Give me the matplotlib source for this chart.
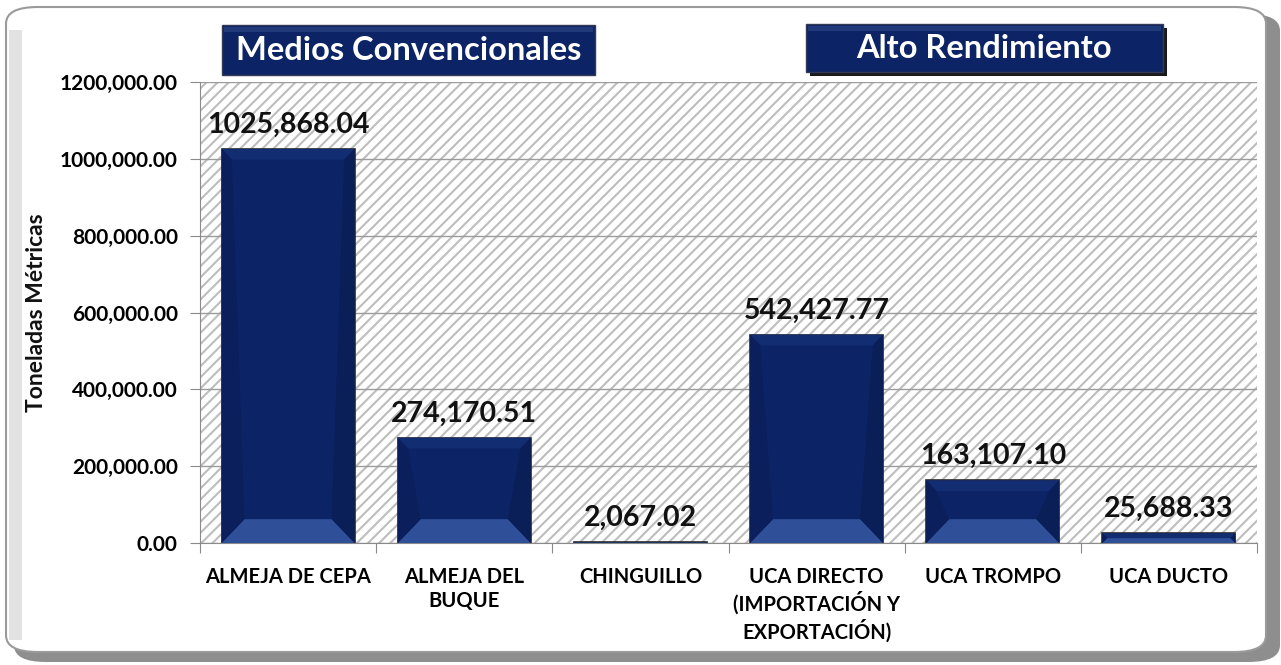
import matplotlib
matplotlib.use("Agg")
import matplotlib.pyplot as plt
from matplotlib.patches import FancyBboxPatch, Rectangle, Polygon
from matplotlib.ticker import FuncFormatter

# Data
categories = ["ALMEJA DE CEPA", "ALMEJA DEL\nBUQUE", "CHINGUILLO",
              "UCA DIRECTO\n(IMPORTACIÓN Y\nEXPORTACIÓN)", "UCA TROMPO", "UCA DUCTO"]
values = [1025868.04, 274170.51, 2067.02, 542427.77, 163107.10, 25688.33]
y_ticks = [0, 200000, 400000, 600000, 800000, 1000000, 1200000]
group_titles = ["Medios Convencionales", "Alto Rendimiento"]

W, H = 1281, 665
NAVY = "#0c2465"

plt.rcParams['font.family'] = ['Lato', 'DejaVu Sans']
plt.rcParams['font.weight'] = 'bold'


# Excel style number: thousands comma only for the last group
def fmt_num(v, pos=None):
    s = "{:,.2f}".format(v)
    if s.count(',') > 1:
        s = s.replace(',', '', 1)
    return s


def px(x, y):
    # pixel (from top-left) to figure fraction
    return x / W, 1 - y / H


fig = plt.figure(figsize=(W / 100, H / 100), dpi=100)

# outer frame with shadow
fig.patches.append(FancyBboxPatch(px(14, 662), 1266 / W, 648 / H,
                                  boxstyle="round,pad=0,rounding_size=0.025",
                                  transform=fig.transFigure, fc="#8e8e8e", ec="none", zorder=0))
fig.patches.append(FancyBboxPatch(px(6, 652), 1260 / W, 645 / H,
                                  boxstyle="round,pad=0,rounding_size=0.025",
                                  transform=fig.transFigure, fc="white", ec="#9a9a9a", lw=1.5, zorder=1))
fig.patches.append(Rectangle(px(9, 640), 13 / W, 610 / H, transform=fig.transFigure,
                             fc="#e2e2e2", ec="none", zorder=1))

ax = fig.add_axes([200 / W, 1 - 543 / H, 1057 / W, 461 / H])
ax.set_zorder(2)
ax.set_facecolor("white")

# hatched plot area
plt.rcParams['hatch.color'] = '#bdbdbd'
plt.rcParams['hatch.linewidth'] = 1.5
ax.add_patch(Rectangle((0, 0), 1, 1, transform=ax.transAxes, fc="white",
                       ec="#bdbdbd", hatch="///", lw=0, zorder=0))

x = list(range(len(categories)))
bar_w = 0.755
bars = ax.bar(x, values, width=bar_w, color=NAVY, edgecolor="#2a2a2a", linewidth=1.2, zorder=3)

ax.set_xlim(-0.5, len(categories) - 0.5)
ax.set_ylim(0, 1200000)

# bevel on the bars
bev_y = 62000
bev_x = 0.13
for b in bars:
    x0 = b.get_x()
    x1 = x0 + b.get_width()
    h = b.get_height()
    dy = min(bev_y, h / 2)
    dx = bev_x * dy / bev_y
    dyt = min(bev_y * 0.45, h / 2)
    dxt = bev_x * dyt / bev_y
    ax.add_patch(Polygon([(x0, 0), (x1, 0), (x1 - dx, dy), (x0 + dx, dy)],
                         closed=True, fc="#2f5098", ec="none", zorder=4))
    ax.add_patch(Polygon([(x0, h), (x1, h), (x1 - dxt, h - dyt), (x0 + dxt, h - dyt)],
                         closed=True, fc="#132d72", ec="none", zorder=4))
    ax.add_patch(Polygon([(x1, 0), (x1, h), (x1 - dxt, h - dyt), (x1 - dx, dy)],
                         closed=True, fc="#0a1e58", ec="none", zorder=4))
    ax.add_patch(Polygon([(x0, 0), (x0, h), (x0 + dxt, h - dyt), (x0 + dx, dy)],
                         closed=True, fc="#0a1f5c", ec="none", zorder=4))
    ax.annotate(fmt_num(h), (b.get_x() + b.get_width() / 2, h), xytext=(0, 8),
                textcoords="offset points", ha="center", va="bottom",
                fontsize=20.5, fontweight="bold", color="#111111", zorder=5)

ax.set_yticks(y_ticks)
ax.yaxis.set_major_formatter(FuncFormatter(fmt_num))
ax.grid(axis="y", color="#9c9c9c", linewidth=1.0, zorder=1)
ax.set_axisbelow(True)

ax.set_xticks([i - 0.5 for i in range(len(categories) + 1)], minor=False)
ax.set_xticklabels([])
ax.set_xticks(x, minor=True)
ax.set_xticklabels(categories, minor=True, fontsize=14.5, fontweight="bold",
                   linespacing=1.25, va="top")
ax.tick_params(axis="x", which="minor", length=0, pad=17)
ax.tick_params(axis="x", which="major", length=7, color="#8a8a8a", direction="out")
ax.tick_params(axis="y", length=7, color="#8a8a8a", labelsize=15, pad=9)
for t in ax.get_yticklabels():
    t.set_fontweight("bold")

for s in ["top", "right"]:
    ax.spines[s].set_visible(False)
ax.spines["left"].set_color("#8a8a8a")
ax.spines["bottom"].set_color("#8a8a8a")

fig.text(37 / W, 1 - 313 / H, "Toneladas Métricas", rotation=90, ha="center", va="center",
         fontsize=16.5, fontweight="bold", color="#111111")

# group title boxes
boxes = [(222, 25, 373, 50, False), (806, 24, 357, 48, True)]
for title, (bx, by, bw, bh, shadow) in zip(group_titles, boxes):
    if shadow:
        fig.patches.append(Rectangle(px(bx + 4, by + bh + 4), bw / W, bh / H,
                                     transform=fig.transFigure, fc="#1a1a1a", ec="none", zorder=5))
    fig.patches.append(Rectangle(px(bx, by + bh), bw / W, bh / H, transform=fig.transFigure,
                                 fc=NAVY, ec="#333a55", lw=1, zorder=6))
    fig.patches.append(Rectangle(px(bx + 2, by + 7), (bw - 4) / W, 5 / H, transform=fig.transFigure,
                                 fc="#3a5596", ec="none", alpha=0.45, zorder=6))
    cx, cy = px(bx + bw / 2, by + bh / 2 + 1)
    fig.text(cx, cy, title, ha="center", va="center", fontsize=23.5, fontweight="bold",
             color="white", zorder=7)

fig.savefig("out.png", dpi=100)
